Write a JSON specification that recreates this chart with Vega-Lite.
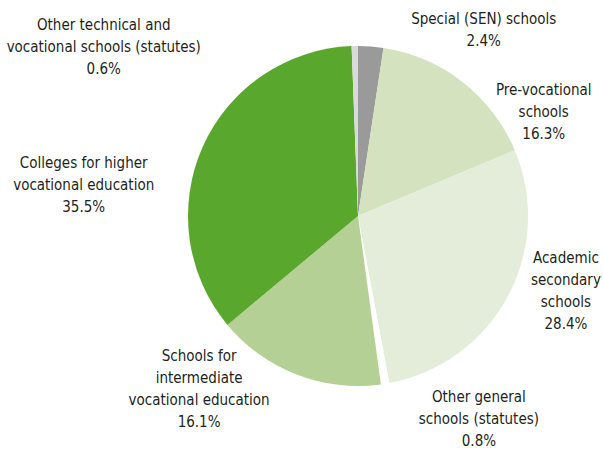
{
  "$schema": "https://vega.github.io/schema/vega-lite/v6.json",
  "width": 490,
  "height": 432,
  "autosize": {"type": "none"},
  "padding": {"left": 113, "top": 0, "right": 0, "bottom": 17},
  "background": "white",
  "view": {"stroke": null},
  "config": {
    "text": {"lineBreak": "\n", "lineHeight": 22, "font": "DejaVu Sans Condensed", "fontSize": 15, "fill": "#231f20", "align": "center", "baseline": "middle"}
  },
  "data": {
    "values": [
      {"key": "sen", "label": "Special (SEN) schools\n2.4%", "share": 2.4, "order": 1},
      {"key": "prevoc", "label": "Pre-vocational\nschools\n16.3%", "share": 16.3, "order": 2},
      {"key": "academic", "label": "Academic\nsecondary\nschools\n28.4%", "share": 28.4, "order": 3},
      {"key": "othergen", "label": "Other general\nschools (statutes)\n0.8%", "share": 0.8, "order": 4},
      {"key": "intermediate", "label": "Schools for\nintermediate\nvocational education\n16.1%", "share": 16.1, "order": 5},
      {"key": "higher", "label": "Colleges for higher\nvocational education\n35.5%", "share": 35.5, "order": 6},
      {"key": "othertech", "label": "Other technical and\nvocational schools (statutes)\n0.6%", "share": 0.6, "order": 7}
    ]
  },
  "encoding": {
    "theta": {"field": "share", "type": "quantitative", "stack": true},
    "order": {"field": "order", "type": "quantitative"}
  },
  "layer": [
    {
      "mark": {"type": "arc", "radius": 170},
      "encoding": {
        "color": {
          "field": "key",
          "type": "nominal",
          "legend": null,
          "scale": {
            "domain": ["sen", "prevoc", "academic", "othergen", "intermediate", "higher", "othertech"],
            "range": ["#9a9a9a", "#d4e2c0", "#e4edda", "#ffffff", "#b4d094", "#5aa72e", "#dadada"]
          }
        }
      }
    },
    {
      "mark": {"type": "text", "radius": 196, "dx": 111, "dy": -2},
      "encoding": {"detail": {"field": "key"}, "text": {"condition": {"test": "datum.key === 'sen'", "field": "label"}, "value": ""}}
    },
    {
      "mark": {"type": "text", "radius": 198, "dx": 64, "dy": 30},
      "encoding": {"detail": {"field": "key"}, "text": {"condition": {"test": "datum.key === 'prevoc'", "field": "label"}, "value": ""}}
    },
    {
      "mark": {"type": "text", "radius": 218, "dx": 16, "dy": -61},
      "encoding": {"detail": {"field": "key"}, "text": {"condition": {"test": "datum.key === 'academic'", "field": "label"}, "value": ""}}
    },
    {
      "mark": {"type": "text", "radius": 219, "dx": 86, "dy": -35},
      "encoding": {"detail": {"field": "key"}, "text": {"condition": {"test": "datum.key === 'othergen'", "field": "label"}, "value": ""}}
    },
    {
      "mark": {"type": "text", "radius": 218, "dx": -80, "dy": -63},
      "encoding": {"detail": {"field": "key"}, "text": {"condition": {"test": "datum.key === 'intermediate'", "field": "label"}, "value": ""}}
    },
    {
      "mark": {"type": "text", "radius": 262, "dx": -35, "dy": 54},
      "encoding": {"detail": {"field": "key"}, "text": {"condition": {"test": "datum.key === 'higher'", "field": "label"}, "value": ""}}
    },
    {
      "mark": {"type": "text", "radius": 172, "dx": -251, "dy": -19},
      "encoding": {"detail": {"field": "key"}, "text": {"condition": {"test": "datum.key === 'othertech'", "field": "label"}, "value": ""}}
    }
  ]
}
